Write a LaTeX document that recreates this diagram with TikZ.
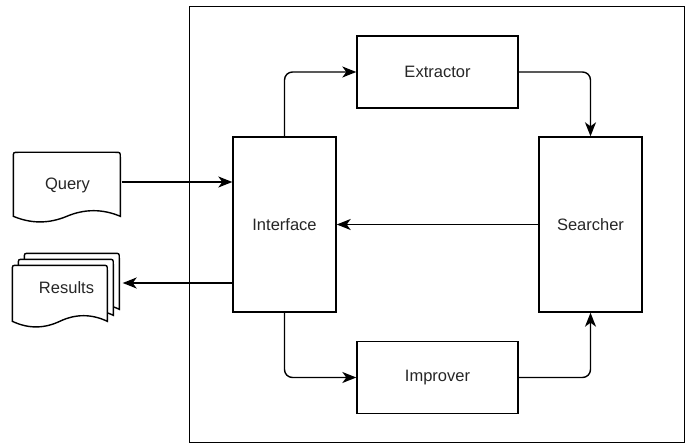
\documentclass[tikz,border=0pt]{standalone}
\usepackage{fontspec}
\setmainfont{Liberation Sans}
\usetikzlibrary{arrows.meta}
\usetikzlibrary{backgrounds}

% page outline with rounded top and a wavy bottom edge
\newcommand{\docoutline}[5]{%
  \filldraw[fill=white, line width=1.4pt, shift={(#1.north west)}, xshift=#2pt, yshift=-#3pt]
    (0,#5) -- (0,5) .. controls (0,0) .. (5,0) -- ({#4-5},0) .. controls (#4,0) .. (#4,5)
    -- (#4,#5) .. controls ({5*#4/6},{#5-7.5}) and ({2*#4/3},{#5-7.5}) .. ({#4/2},#5)
    .. controls ({#4/3},{#5+7.5}) and ({#4/6},{#5+7.5}) .. (0,#5) -- cycle;}

\begin{document}
\begin{tikzpicture}[x=1pt, y=-1pt, line width=1.4pt,
    every node/.style={font=\fontsize{16.5}{20}\selectfont, text=black!85},
    box/.style={draw, inner sep=0pt},
    wide/.style={box, minimum width=161, minimum height=72},
    tall/.style={box, minimum width=103, minimum height=175},
    doc/.style={inner sep=0pt, minimum width=107},
    flow/.style={-{Stealth[length=14pt, width=11pt, inset=4pt]}, rounded corners=8pt}]
    \useasboundingbox (0,0) rectangle (692,446);

    \node[box, minimum width=495, minimum height=436] (system) at (437,224.5) {};

    \node[wide] (extractor) at (437.5,72) {Extractor};
    \node[wide] (improver) at (437.5,377.5) {Improver};
    \node[tall] (interface) at (284.5,224.5) {Interface};
    \node[tall] (searcher) at (590.5,224.5) {Searcher};

    \node[doc, minimum height=64] (query) at (67.5,185) {Query};
    \node[doc, minimum height=68] (results) at (66.5,288) {Results};

    \begin{scope}[on background layer]
        \docoutline{query}{0}{0}{107}{64}
        \docoutline{results}{12}{0}{95}{56}
        \docoutline{results}{6}{6}{95}{56}
        \docoutline{results}{0}{12}{95}{56}
    \end{scope}

    \coordinate (qout) at ([yshift=3pt]query.east);
    \coordinate (rin) at ([yshift=5pt,xshift=2pt]results.east);

    \draw[flow] (qout) -- (qout -| interface.west);
    \draw[flow] (rin -| interface.west) -- (rin);
    \draw[flow] (interface.north) |- (extractor.west);
    \draw[flow] (extractor.east) -| (searcher.north);
    \draw[flow] (interface.south) |- (improver.west);
    \draw[flow] (improver.east) -| (searcher.south);
    \draw[flow] (searcher.west) -- (interface.east);
\end{tikzpicture}
\end{document}
